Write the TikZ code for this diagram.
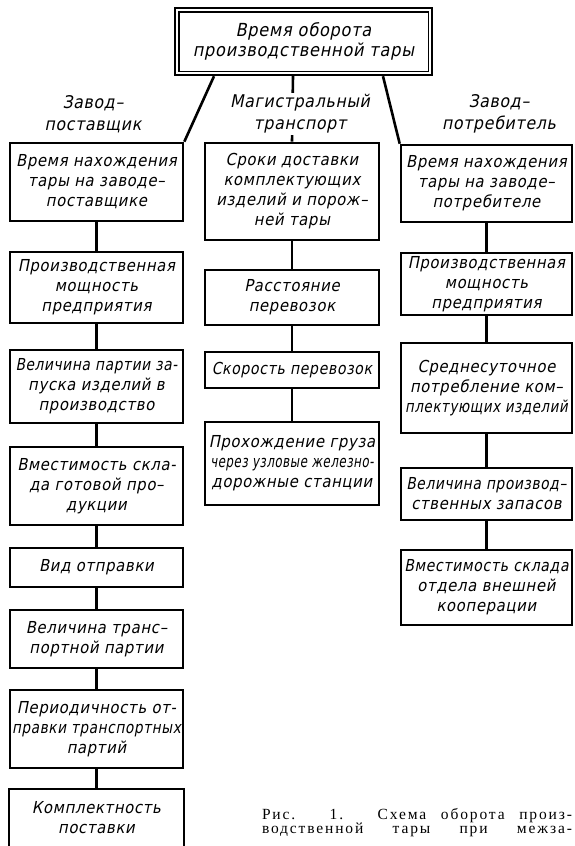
\documentclass[tikz,border=0pt]{standalone}
\usepackage{fontspec}
\usepackage{graphicx}
\newfontfamily\gost[LetterSpace=4,FakeSlant=0.2]{DejaVu Sans Condensed}
\newfontfamily\capfont[LetterSpace=12]{Liberation Serif}
\tikzset{
  box/.style={draw, line width=1.8pt, inner sep=0pt, align=center,
    font=\gost\fontsize{16.5}{20}\selectfont},
  firstbox/.style={box, line width=2.6pt},
  link/.style={line width=2.6pt},
  lbl/.style={align=center, inner sep=2pt, fill=white,
    font=\gost\fontsize{17.5}{22}\selectfont},
  capline/.style={inner sep=0pt, align=left, font=\capfont\fontsize{15.5}{14.5}\selectfont}
}
\begin{document}
\begin{tikzpicture}[x=1pt,y=-1pt]
\clip (0,0) rectangle (574,846);
\fill[white] (0,0) rectangle (574,846);
% top node
\node[draw, line width=2.4pt, minimum width=257pt, minimum height=67pt, inner sep=0pt, align=center,
  font=\gost\fontsize{18}{20}\selectfont] (T) at (303.5,41.5)
  {Время оборота\\производственной тары};
\draw[line width=1.4pt] ([xshift=5pt,yshift=-5pt]T.north west) rectangle ([xshift=-5pt,yshift=5pt]T.south east);
% left column
\node[firstbox, minimum width=173pt, minimum height=78pt] (L1) at (96.5,182) {Время нахождения\\тары на заводе–\\поставщике};
\node[box, minimum width=173pt, minimum height=71pt] (L2) at (96.5,287.5) {Производственная\\мощность\\предприятия};
\node[box, minimum width=173pt, minimum height=73pt] (L3) at (96.5,386.5) {\scalebox{0.93}[1]{Величина партии за-}\\пуска изделий в\\производство};
\node[box, minimum width=173pt, minimum height=78pt] (L4) at (96.5,486) {Вместимость скла-\\да готовой про–\\дукции};
\node[box, minimum width=173pt, minimum height=39pt] (L5) at (96.5,567.5) {Вид отправки};
\node[box, minimum width=173pt, minimum height=58pt] (L6) at (96.5,639) {Величина транс–\\портной партии};
\node[box, minimum width=173pt, minimum height=78pt] (L7) at (96.5,729) {Периодичность от-\\\scalebox{0.92}[1]{правки транспортных}\\партий};
\node[box, draw=none, minimum width=173pt, minimum height=56pt] (L8) at (96.5,818) {Комплектность\\поставки};
\draw[line width=1.8pt] (L8.south west) -- (L8.north west) -- (L8.north east) -- (L8.south east);
% middle column
\node[firstbox, minimum width=174pt, minimum height=97pt] (M1) at (292,191.5) {Сроки доставки\\комплектующих\\изделий и порож–\\ней тары};
\node[box, minimum width=174pt, minimum height=55pt] (M2) at (292,297.5) {Расстояние\\перевозок};
\node[box, minimum width=174pt, minimum height=36pt] (M3) at (292,370) {\scalebox{0.95}[1]{Скорость перевозок}};
\node[box, minimum width=174pt, minimum height=83pt] (M4) at (292,463.5) {Прохождение груза\\\scalebox{0.8}[1]{через узловые железно-}\\дорожные станции};
% right column
\node[firstbox, minimum width=171pt, minimum height=77pt] (R1) at (486.5,183.5) {Время нахождения\\тары на заводе–\\потребителе};
\node[box, minimum width=171pt, minimum height=62pt] (R2) at (486.5,284) {Производственная\\мощность\\предприятия};
\node[box, minimum width=171pt, minimum height=90pt] (R3) at (486.5,388) {Среднесуточное\\потребление ком–\\\scalebox{0.9}[1]{плектующих изделий}};
\node[box, minimum width=171pt, minimum height=52pt] (R4) at (486.5,494) {\scalebox{0.93}[1]{Величина производ–}\\ственных запасов};
\node[box, minimum width=171pt, minimum height=75pt] (R5) at (486.5,587.5) {\scalebox{0.95}[1]{Вместимость склада}\\отдела внешней\\кооперации};
% connectors from top
\draw[link] ([xshift=-89.5pt]T.south) -- (L1.north east);
\draw[link] ([xshift=79.5pt]T.south) -- (R1.north west);
\draw[link] ([xshift=-10.5pt]T.south) -- (M1.north);
% column connectors
\foreach \a/\b in {L1/L2,L2/L3,L3/L4,L4/L5,L5/L6,L6/L7,L7/L8,M1/M2,M2/M3,M3/M4,R1/R2,R2/R3,R3/R4,R4/R5}
  \draw[link] (\a.south) -- (\b.north);
% labels
\node[lbl] (lab1) at (93,114) {Завод–\\поставщик};
\node[lbl] (lab2) at (300,114) {Магистральный\\транспорт};
\node[lbl] (lab3) at (499,114) {Завод–\\потребитель};
% caption
\node[capline] (cap) at (417,822.5) {\makebox[310pt][s]{Рис. 1. Схема оборота произ-}\\\makebox[310pt][s]{водственной тары при межза-}};
\end{tikzpicture}
\end{document}
